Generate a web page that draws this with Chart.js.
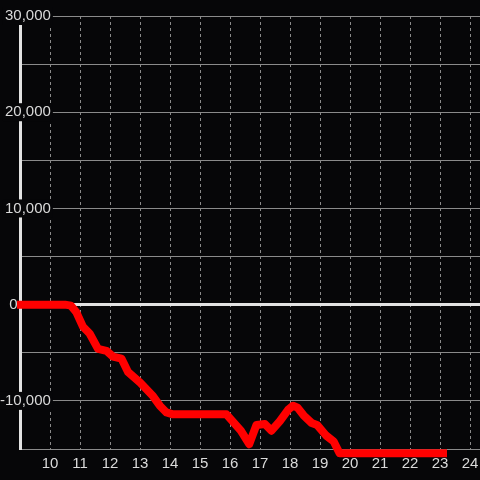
<!DOCTYPE html>
<html>
<head>
<meta charset="utf-8">
<script src="https://cdn.jsdelivr.net/npm/chart.js@4.4.1/dist/chart.umd.min.js"></script>
<style>
  html, body { margin: 0; padding: 0; background: #060608; }
  #wrap { width: 480px; height: 480px; }
</style>
</head>
<body>
<div id="wrap"><canvas id="chart" width="480" height="480"></canvas></div>
<script>
'use strict';

// hours on x, running balance on y
const hours = [8.9, 10.5, 10.7, 10.88, 11.1, 11.32, 11.6, 11.88, 12.1, 12.38, 12.6, 13.0, 13.43, 13.66, 13.88, 14.1,
  15.88, 16.36, 16.64, 16.88, 17.16, 17.38, 17.66, 17.94, 18.1, 18.25, 18.45, 18.72, 18.9, 19.2, 19.45, 19.65, 23.23];
const balance = [0, 0, -100, -800, -2300, -3000, -4600, -4800, -5400, -5600, -7000, -8100, -9500, -10500, -11200, -11400,
  -11400, -13100, -14500, -12500, -12400, -13100, -12100, -10900, -10500, -10700, -11500, -12300, -12500, -13600, -14200, -15450, -15450];

const xTicks = [10, 11, 12, 13, 14, 15, 16, 17, 18, 19, 20, 21, 22, 23, 24];
const yTicks = [-15000, -10000, -5000, 0, 5000, 10000, 15000, 20000, 25000, 30000];
const yLabeled = [-10000, 0, 10000, 20000, 30000];

const bg = '#060608';
const txt = '#dadada';
const gridCol = '#8a8a8a';
const axisCol = '#e2e2e2';
const font = { family: "'Liberation Sans', Arial, sans-serif", size: 15 };

const ctx = document.getElementById('chart').getContext('2d');
new Chart(ctx, {
  type: 'line',
  data: {
    datasets: [{
      data: hours.map((h, i) => ({ x: h, y: balance[i] })),
      borderColor: '#ff0000',
      borderWidth: 8,
      pointRadius: 0,
      tension: 0,
      borderJoinStyle: 'round',
      borderCapStyle: 'butt',
      clip: { left: 4, top: 4, right: 0, bottom: 10 }
    }]
  },
  options: {
    responsive: false,
    animation: false,
    layout: { padding: { top: 16, bottom: 1, left: 0, right: 0 } },
    plugins: { legend: { display: false }, tooltip: { enabled: false } },
    scales: {
      x: {
        type: 'linear',
        min: 9,
        max: 24.33,
        afterBuildTicks: s => { s.ticks = xTicks.map(v => ({ value: v })); },
        afterFit: s => { s.paddingLeft = 0; s.paddingRight = 0; },
        ticks: { color: txt, font, padding: 6, autoSkip: false, maxRotation: 0, callback: v => String(v) },
        grid: { color: gridCol, lineWidth: 1, drawTicks: false },
        border: { display: false, dash: [3, 3] }
      },
      y: {
        min: -15000,
        max: 30000,
        afterBuildTicks: s => { s.ticks = yTicks.map(v => ({ value: v })); },
        afterFit: s => { s.width = 20; },
        ticks: {
          color: txt,
          font,
          mirror: true,
          crossAlign: 'far',
          padding: -20,
          callback: v => {
            if (!yLabeled.includes(v)) return '';
            if (v === 0) return '0' + ' '.repeat(8);
            return v.toLocaleString('en-US');
          },
          showLabelBackdrop: true,
          backdropColor: c => (c.tick && c.tick.value % 10000 === 0 && c.tick.value !== 0) ? bg : 'rgba(0,0,0,0)',
          backdropPadding: { x: 2, y: 0 }
        },
        grid: {
          color: c => c.tick && c.tick.value === 0 ? axisCol : gridCol,
          lineWidth: c => c.tick && c.tick.value === 0 ? 3 : 1,
          drawTicks: false
        },
        border: { color: axisCol, width: 3 }
      }
    }
  }
});
</script>
</body>
</html>
